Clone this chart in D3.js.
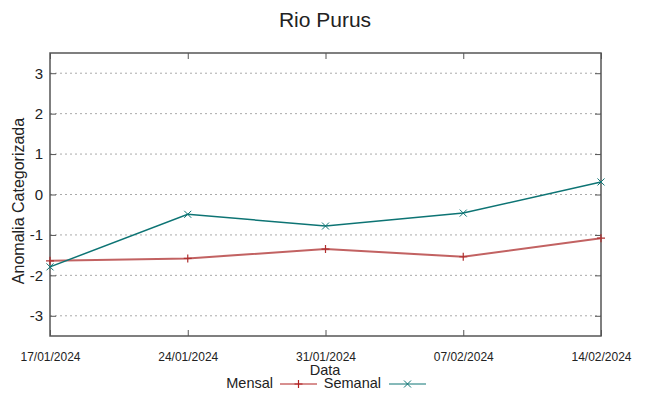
<!DOCTYPE html>
<html><head><meta charset="utf-8">
<script src="https://cdn.jsdelivr.net/npm/d3@7"></script>
<style>body{margin:0;background:#fff}svg{display:block}text{font-family:"Liberation Sans",Arial,sans-serif;fill:#222}</style>
</head><body><svg id="c" width="649" height="396"></svg>
<script>
const dates = ["17/01/2024","24/01/2024","31/01/2024","07/02/2024","14/02/2024"];
const mensal = [-1.64, -1.58, -1.35, -1.54, -1.08];
const semanal = [-1.79, -0.49, -0.78, -0.46, 0.31];
const yTicks = [-3,-2,-1,0,1,2,3];
const title = "Rio Purus";

const parse = d3.timeParse("%d/%m/%Y");
const fmt = d3.timeFormat("%d/%m/%Y");
const svg = d3.select("#c");
const L=50, R=601, T=53, B=336;
const x = d3.scaleTime().domain([parse(dates[0]), parse(dates[dates.length-1])]).range([L,R]);
const y = d3.scaleLinear().domain([-3.5,3.5]).range([B,T]);

// grid
svg.append("g").selectAll("line").data(yTicks).join("line")
  .attr("x1",L).attr("x2",R).attr("y1",d=>y(d)).attr("y2",d=>y(d))
  .attr("stroke","#aaa").attr("stroke-width",1).attr("stroke-dasharray","2,3");

// axes
const tickDates = dates.map(parse);
const gl = svg.append("g").attr("transform",`translate(${L},0)`)
  .call(d3.axisLeft(y).tickValues(yTicks).tickSize(-6).tickPadding(7).tickFormat(d=>String(d)));
const gr = svg.append("g").attr("transform",`translate(${R},0)`)
  .call(d3.axisRight(y).tickValues(yTicks).tickSize(-6).tickFormat(""));
const gb = svg.append("g").attr("transform",`translate(0,${B})`)
  .call(d3.axisBottom(x).tickValues(tickDates).tickSize(-6).tickPadding(16).tickFormat(fmt));
const gt = svg.append("g").attr("transform",`translate(0,${T})`)
  .call(d3.axisTop(x).tickValues(tickDates).tickSize(-6).tickFormat(""));
[gl,gr,gb,gt].forEach(g=>{
  g.attr("font-family",null).attr("font-size",null);
  g.select(".domain").remove();
  g.selectAll(".tick line").attr("stroke","#555").attr("stroke-width",1);
});
gl.selectAll("text").style("font-size","15px").attr("fill","#222");
gb.selectAll("text").style("font-size","12px").attr("fill","#222");

svg.append("rect").attr("x",L).attr("y",T).attr("width",R-L).attr("height",B-T)
  .attr("fill","none").attr("stroke","#555").attr("stroke-width",1.5);

// lines
const line = d3.line().x((d,i)=>x(parse(dates[i]))).y(d=>y(d));
svg.append("path").datum(mensal).attr("d",line).attr("fill","none").attr("stroke","#c26262").attr("stroke-width",2);
svg.append("path").datum(semanal).attr("d",line).attr("fill","none").attr("stroke","#0d7474").attr("stroke-width",1.5);

function plus(g,cx,cy,c,s){g.append("path").attr("d",`M${cx-s},${cy}H${cx+s}M${cx},${cy-s}V${cy+s}`).attr("stroke",c).attr("stroke-width",1.2).attr("fill","none");}
function cross(g,cx,cy,c,s){g.append("path").attr("d",`M${cx-s},${cy-s}L${cx+s},${cy+s}M${cx-s},${cy+s}L${cx+s},${cy-s}`).attr("stroke",c).attr("stroke-width",1).attr("fill","none");}
mensal.forEach((v,i)=>plus(svg,x(parse(dates[i])),y(v),"#b03030",4));
semanal.forEach((v,i)=>cross(svg,x(parse(dates[i])),y(v),"#0d7474",3.5));

// title and labels
svg.append("text").attr("x",325).attr("y",27).attr("text-anchor","middle").style("font-size","21px").text(title);
svg.append("text").attr("transform","translate(24,201) rotate(-90)").attr("text-anchor","middle").style("font-size","16px").text("Anomalia Categorizada");
svg.append("text").attr("x",325).attr("y",375).attr("text-anchor","middle").style("font-size","14.5px").text("Data");

// legend
svg.append("text").attr("x",273).attr("y",388).attr("text-anchor","end").style("font-size","14.5px").text("Mensal");
svg.append("line").attr("x1",280).attr("x2",317).attr("y1",384).attr("y2",384).attr("stroke","#b02020").attr("stroke-width",1);
plus(svg,298.5,384,"#b02020",4);
svg.append("text").attr("x",381).attr("y",388).attr("text-anchor","end").style("font-size","14.5px").text("Semanal");
svg.append("line").attr("x1",389).attr("x2",426).attr("y1",384).attr("y2",384).attr("stroke","#0d7474").attr("stroke-width",1);
cross(svg,407.5,384,"#0d7474",3.5);
</script></body></html>
